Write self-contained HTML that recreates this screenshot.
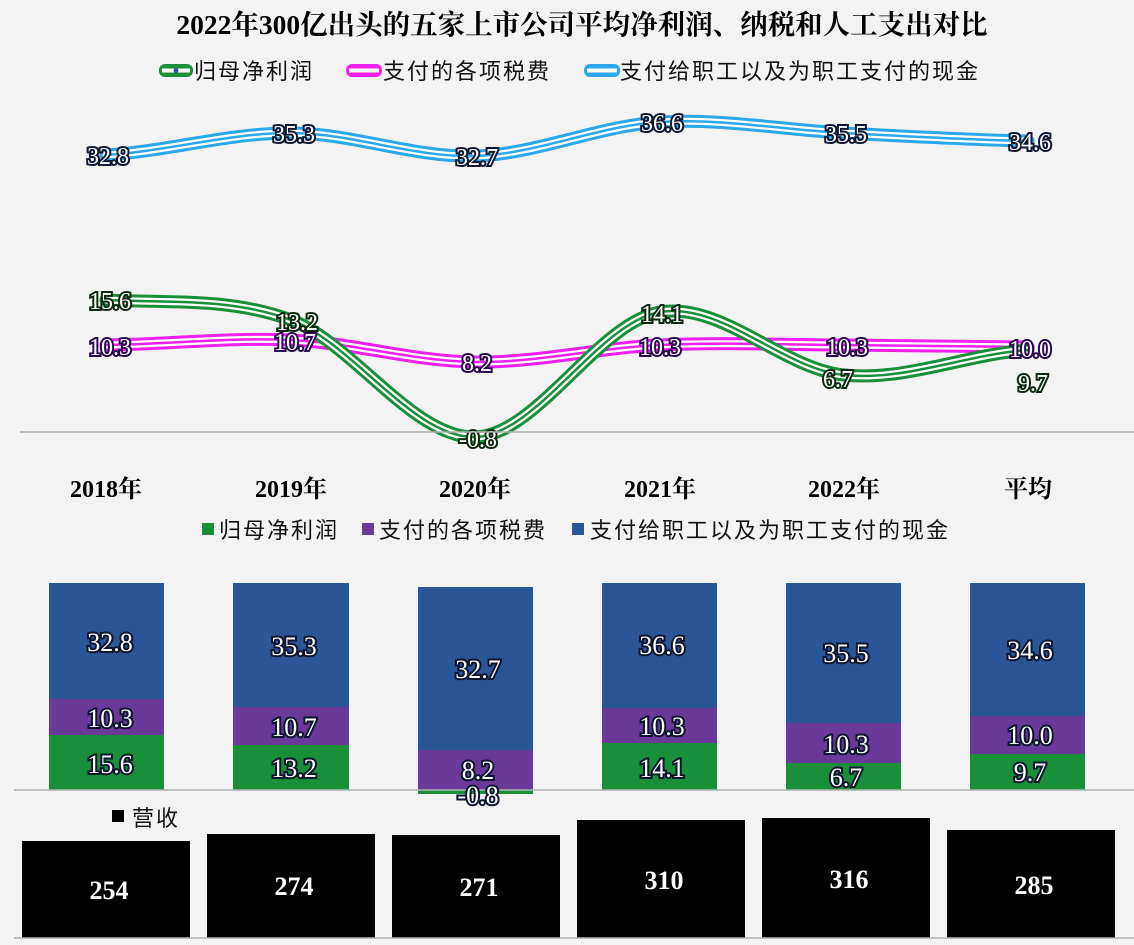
<!DOCTYPE html>
<html><head><meta charset="utf-8"><style>
html,body{margin:0;padding:0;background:#f3f3f3;}
svg{display:block;}
.s{font-family:"Liberation Serif","Noto Serif CJK SC","Noto Sans CJK SC",serif;}
.lab{font-family:"Liberation Serif",serif;font-size:24px;fill:#fff;stroke:#111833;stroke-width:4px;paint-order:stroke;text-anchor:middle;}
.bl{font-family:"Liberation Serif",serif;font-size:26px;fill:#fff;stroke:#0d1530;stroke-width:4px;paint-order:stroke;text-anchor:middle;}
.cat{font-family:"Liberation Serif","Noto Serif CJK SC",serif;font-size:24px;font-weight:bold;text-anchor:middle;fill:#000;}
.lg{font-family:"Liberation Sans","Noto Sans CJK SC",sans-serif;font-size:22px;fill:#111;letter-spacing:2px;}
.rv{font-family:"Liberation Serif",serif;font-size:26px;font-weight:bold;fill:#fff;text-anchor:middle;}
</style></head><body>
<svg width="1134" height="945" viewBox="0 0 1134 945" xmlns="http://www.w3.org/2000/svg">
<rect width="1134" height="945" fill="#f3f3f3"/>
<text x="582" y="34" class="s" font-size="27.5" font-weight="bold" text-anchor="middle">2022年300亿出头的五家上市公司平均净利润、纳税和人工支出对比</text>
<!-- legend 1 -->
<rect x="159" y="64" width="34" height="13" rx="6" fill="#1a8f3a"/><rect x="162" y="68.5" width="28" height="4" fill="#fff"/><circle cx="176" cy="70.5" r="2.5" fill="#2a55a0"/>
<text x="194" y="79" class="lg">归母净利润</text>
<rect x="346" y="64" width="36" height="13" rx="6" fill="#f020f0"/><rect x="349" y="68.5" width="30" height="4" fill="#fff"/>
<text x="383" y="79" class="lg">支付的各项税费</text>
<rect x="584" y="64" width="36" height="13" rx="6" fill="#2aa8ea"/><rect x="587" y="68.5" width="30" height="4" fill="#fff"/>
<text x="620" y="79" class="lg">支付给职工以及为职工支付的现金</text>
<!-- lines -->
<g fill="none" stroke-linecap="round">
<path d="M106 155 C167.5 151.3 229.5 132.8 291 133 C352.5 133.2 413.5 157.8 475 156 C536.5 154.2 598.5 125.8 660 122 C721.5 118.2 782.5 129.8 844 133 C905.5 136.2 966.5 139.7 1028 141" stroke="#2aa8ea" stroke-width="13"/>
<path d="M106 155 C167.5 151.3 229.5 132.8 291 133 C352.5 133.2 413.5 157.8 475 156 C536.5 154.2 598.5 125.8 660 122 C721.5 118.2 782.5 129.8 844 133 C905.5 136.2 966.5 139.7 1028 141" stroke="#fff" stroke-width="7"/>
<path d="M106 155 C167.5 151.3 229.5 132.8 291 133 C352.5 133.2 413.5 157.8 475 156 C536.5 154.2 598.5 125.8 660 122 C721.5 118.2 782.5 129.8 844 133 C905.5 136.2 966.5 139.7 1028 141" stroke="#2aa8ea" stroke-width="2.5"/>
<path d="M106 345 C167.5 344.2 229.5 337.2 291 340 C352.5 342.8 413.5 361.2 475 362 C536.5 362.8 598.5 347.8 660 345 C721.5 342.2 782.5 344.7 844 345 C905.5 345.3 966.5 346.7 1028 347" stroke="#f020f0" stroke-width="13"/>
<path d="M106 345 C167.5 344.2 229.5 337.2 291 340 C352.5 342.8 413.5 361.2 475 362 C536.5 362.8 598.5 347.8 660 345 C721.5 342.2 782.5 344.7 844 345 C905.5 345.3 966.5 346.7 1028 347" stroke="#fff" stroke-width="7"/>
<path d="M106 345 C167.5 344.2 229.5 337.2 291 340 C352.5 342.8 413.5 361.2 475 362 C536.5 362.8 598.5 347.8 660 345 C721.5 342.2 782.5 344.7 844 345 C905.5 345.3 966.5 346.7 1028 347" stroke="#f020f0" stroke-width="2.5"/>
<path d="M106 300 C167.5 303.3 229.5 297.2 291 320 C352.5 342.8 413.5 438.3 475 437 C536.5 435.7 598.5 322.3 660 312 C721.5 301.7 782.5 368.7 844 375 C905.5 381.3 966.5 354.2 1028 350" stroke="#1a8f3a" stroke-width="13"/>
<path d="M106 300 C167.5 303.3 229.5 297.2 291 320 C352.5 342.8 413.5 438.3 475 437 C536.5 435.7 598.5 322.3 660 312 C721.5 301.7 782.5 368.7 844 375 C905.5 381.3 966.5 354.2 1028 350" stroke="#fff" stroke-width="7"/>
<path d="M106 300 C167.5 303.3 229.5 297.2 291 320 C352.5 342.8 413.5 438.3 475 437 C536.5 435.7 598.5 322.3 660 312 C721.5 301.7 782.5 368.7 844 375 C905.5 381.3 966.5 354.2 1028 350" stroke="#1a8f3a" stroke-width="2.5"/>
</g>
<g class="lab">
<text x="108" y="164">32.8</text><text x="294" y="142">35.3</text><text x="477" y="165">32.7</text><text x="662" y="131">36.6</text><text x="846" y="142">35.5</text><text x="1030" y="150">34.6</text>
<text x="110" y="309" stroke="#0d2a10">15.6</text><text x="297" y="330" stroke="#0d2a10">13.2</text><text x="478" y="447" stroke="#0d2a10">-0.8</text><text x="662" y="322" stroke="#0d2a10">14.1</text><text x="838" y="387" stroke="#0d2a10">6.7</text><text x="1033" y="391" stroke="#0d2a10">9.7</text>
<text x="110" y="355" stroke="#2a0a50">10.3</text><text x="295" y="350" stroke="#2a0a50">10.7</text><text x="477" y="371" stroke="#2a0a50">8.2</text><text x="660" y="355" stroke="#2a0a50">10.3</text><text x="847" y="355" stroke="#2a0a50">10.3</text><text x="1030" y="357" stroke="#2a0a50">10.0</text>
</g>
<line x1="20" y1="432" x2="1134" y2="432" stroke="#b0b0b0" stroke-width="1.5"/>
<g class="cat"><text x="106" y="497">2018年</text><text x="291" y="497">2019年</text><text x="475" y="497">2020年</text><text x="660" y="497">2021年</text><text x="844" y="497">2022年</text><text x="1028" y="497">平均</text></g>
<!-- legend 2 -->
<rect x="202" y="523" width="12" height="12" fill="#1a8f3a"/><text x="219" y="538" class="lg">归母净利润</text>
<rect x="362" y="523" width="12" height="12" fill="#6a3a9a"/><text x="379" y="538" class="lg">支付的各项税费</text>
<rect x="572" y="523" width="12" height="12" fill="#2a5597"/><text x="590" y="538" class="lg">支付给职工以及为职工支付的现金</text>
<!-- stacked bars -->
<g>
<rect x="49" y="583" width="115" height="116" fill="#2a5597"/><rect x="49" y="699" width="115" height="36" fill="#6a3a9a"/><rect x="49" y="735" width="115" height="55" fill="#1a8f3a"/>
<rect x="233" y="583" width="116" height="124" fill="#2a5597"/><rect x="233" y="707" width="116" height="38" fill="#6a3a9a"/><rect x="233" y="745" width="116" height="45" fill="#1a8f3a"/>
<rect x="418" y="587" width="115" height="163" fill="#2a5597"/><rect x="418" y="750" width="115" height="40" fill="#6a3a9a"/><rect x="418" y="790" width="115" height="4" fill="#1a8f3a"/>
<rect x="602" y="583" width="115" height="125" fill="#2a5597"/><rect x="602" y="708" width="115" height="35" fill="#6a3a9a"/><rect x="602" y="743" width="115" height="47" fill="#1a8f3a"/>
<rect x="786" y="583" width="115" height="140" fill="#2a5597"/><rect x="786" y="723" width="115" height="40" fill="#6a3a9a"/><rect x="786" y="763" width="115" height="27" fill="#1a8f3a"/>
<rect x="970" y="583" width="115" height="133" fill="#2a5597"/><rect x="970" y="716" width="115" height="38" fill="#6a3a9a"/><rect x="970" y="754" width="115" height="36" fill="#1a8f3a"/>
</g>
<line x1="14" y1="790" x2="1134" y2="790" stroke="#b0b0b0" stroke-width="1.5"/>
<g class="bl">
<text x="110" y="651">32.8</text><text x="110" y="727">10.3</text><text x="110" y="773">15.6</text>
<text x="294" y="655">35.3</text><text x="294" y="736">10.7</text><text x="294" y="777">13.2</text>
<text x="478" y="678">32.7</text><text x="478" y="779">8.2</text><text x="478" y="804">-0.8</text>
<text x="662" y="654">36.6</text><text x="662" y="735">10.3</text><text x="662" y="777">14.1</text>
<text x="846" y="662">35.5</text><text x="846" y="753">10.3</text><text x="846" y="786">6.7</text>
<text x="1030" y="659">34.6</text><text x="1030" y="744">10.0</text><text x="1030" y="781">9.7</text>
</g>
<!-- revenue -->
<rect x="112" y="810" width="12" height="12" fill="#000"/><text x="132" y="826" class="lg">营收</text>
<g fill="#000">
<rect x="22" y="841" width="168" height="97"/><rect x="207" y="834" width="168" height="104"/><rect x="392" y="835" width="168" height="103"/>
<rect x="577" y="820" width="168" height="118"/><rect x="762" y="818" width="168" height="120"/><rect x="947" y="830" width="168" height="108"/>
</g>
<line x1="14" y1="938" x2="1134" y2="938" stroke="#b0b0b0" stroke-width="1.5"/>
<g class="rv"><text x="109" y="899">254</text><text x="294" y="895">274</text><text x="479" y="896">271</text><text x="664" y="889">310</text><text x="849" y="888">316</text><text x="1034" y="894">285</text></g>
</svg>
</body></html>
